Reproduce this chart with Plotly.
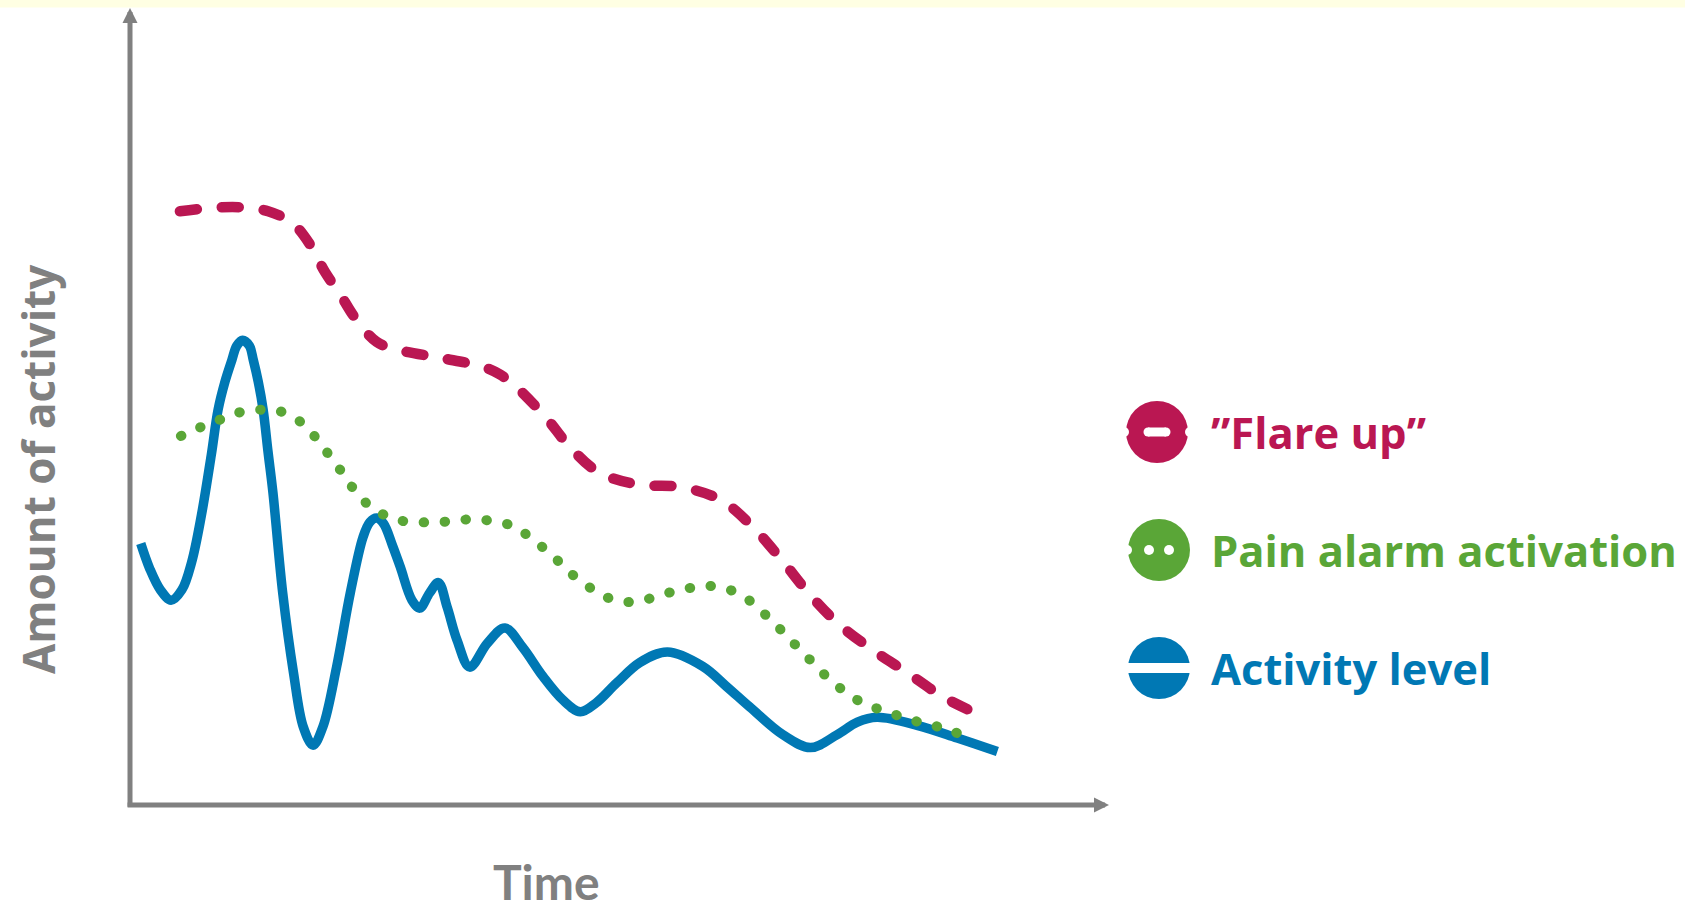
import plotly.graph_objects as go

# ---- series (time 0-100, amount of activity 0-100) ----
flare_x = [5.1, 8.2, 11.2, 14.1, 16.6, 18.4, 19.9, 21.5, 23.0, 25.2, 27.4, 31.7, 36.0,
           37.8, 39.6, 42.7, 44.6, 47.8, 51.9, 56.2, 60.3, 63.6, 66.6, 69.3, 72.3,
           75.8, 79.4, 83.0, 86.1]
flare_y = [74.5, 74.9, 75.0, 74.5, 73.0, 70.3, 66.9, 64.0, 61.1, 58.1, 57.1, 56.1, 55.0,
           54.0, 52.3, 48.3, 45.4, 41.8, 40.2, 39.9, 38.3, 34.9, 30.7, 26.6, 22.8,
           19.5, 16.6, 13.6, 11.7]

pain_x = [5.2, 7.2, 9.3, 11.3, 13.6, 15.6, 17.6, 19.1, 20.4, 21.8, 23.0, 24.5, 26.5,
          28.6, 30.9, 33.0, 35.2, 37.4, 39.4, 41.0, 43.1, 44.6, 46.3, 48.1, 50.3,
          52.4, 54.6, 56.7, 58.8, 61.0, 63.0, 64.7, 66.3, 67.8, 69.4, 70.9, 72.5,
          74.4, 76.3, 78.5, 80.6, 82.6, 84.8]
pain_y = [46.3, 47.4, 48.4, 49.3, 49.6, 49.3, 47.9, 45.9, 43.8, 41.5, 39.4, 37.5, 36.1,
          35.5, 35.5, 35.6, 35.9, 35.5, 34.9, 33.4, 31.4, 29.5, 27.9, 26.4, 25.5,
          25.7, 26.5, 27.1, 27.5, 27.1, 25.9, 24.1, 22.2, 20.3, 18.3, 16.4, 14.7,
          13.1, 12.1, 11.2, 10.4, 9.8, 8.9]

activity_x = [1.1, 2.0, 3.1, 4.2, 5.3, 6.3, 7.3, 8.3, 9.0, 9.7, 10.4, 10.9, 11.5,
              12.2, 12.6, 13.1, 13.6, 14.1, 14.6, 15.6, 16.7, 17.7, 18.7, 19.7, 21.1,
              22.5, 23.8, 24.5, 25.2, 25.9, 26.8, 27.6, 28.8, 29.6, 30.6, 31.5, 32.4,
              33.4, 34.7, 36.5, 38.3, 40.1, 42.2, 44.2, 46.0, 47.6, 49.7, 52.1, 54.9,
              58.5, 61.0, 63.3, 66.7, 69.5, 72.2, 74.3, 76.3, 80.4, 84.5, 88.6]
activity_y = [32.8, 29.7, 27.0, 25.7, 27.0, 30.5, 36.4, 43.9, 49.6, 53.1, 55.8, 57.6, 58.3,
              57.6, 55.8, 53.1, 49.6, 44.3, 39.2, 26.6, 16.6, 9.8, 7.5, 9.8, 17.3,
              26.6, 33.6, 35.5, 36.0, 35.3, 32.6, 29.9, 25.7, 24.7, 26.6, 27.9, 24.8,
              20.7, 17.3, 20.3, 22.2, 19.8, 16.1, 13.2, 11.7, 12.8, 15.3, 17.9, 19.2,
              17.4, 14.8, 12.3, 8.8, 7.2, 8.8, 10.4, 11.0, 10.0, 8.4, 6.7]

legend_labels = ["\u201dFlare up\u201d", "Pain alarm activation", "Activity level"]
x_title = "Time"
y_title = "Amount of activity"

# ---- styling ----
MAGENTA = "#BA1752"
GREEN = "#5AA637"
BLUE = "#0078B4"
GREY = "#808080"
TEXT_FONT = "Open Sans"
TITLE_FONT = "Lato"

W, H = 1685, 911
L, R, T, B = 130, 1109, 8, 805   # plot-area edges in page pixels


def px(X):
    return (X - L) / (R - L)


def py(Y):
    return (B - Y) / (B - T)


fig = go.Figure()

fig.add_trace(go.Scatter(
    x=activity_x, y=activity_y, mode="lines", uid="activity",
    line=dict(color=BLUE, width=9.5, shape="spline", smoothing=1.0),
    hoverinfo="skip", showlegend=False))

fig.add_trace(go.Scatter(
    x=pain_x, y=pain_y, mode="lines", uid="pain",
    line=dict(color=GREEN, width=10, shape="spline", smoothing=1.0,
              dash="0.5px,20.5px"),
    hoverinfo="skip", showlegend=False))

fig.add_trace(go.Scatter(
    x=flare_x, y=flare_y, mode="lines", uid="flare",
    line=dict(color=MAGENTA, width=10.5, shape="spline", smoothing=1.0,
              dash="17px,25px"),
    hoverinfo="skip", showlegend=False))

annotations = []
# axis arrows
annotations.append(dict(x=0, y=100, ax=0, ay=-0.4, xref="x", yref="y", axref="x", ayref="y",
                        text="", showarrow=True, arrowhead=2, arrowsize=0.6, arrowwidth=5,
                        arrowcolor=GREY, standoff=0, startstandoff=0))
annotations.append(dict(x=100, y=0, ax=-0.4, ay=0, xref="x", yref="y", axref="x", ayref="y",
                        text="", showarrow=True, arrowhead=2, arrowsize=0.6, arrowwidth=5,
                        arrowcolor=GREY, standoff=0, startstandoff=0))
# axis titles
annotations.append(dict(x=px(546), y=py(911), xref="paper", yref="paper", text=x_title,
                        showarrow=False, xanchor="center", yanchor="bottom",
                        borderpad=0,
                        font=dict(family=TITLE_FONT, size=48, color=GREY, weight=700)))
annotations.append(dict(x=px(38), y=py(469), xref="paper", yref="paper", text=y_title,
                        showarrow=False, xanchor="center", yanchor="middle", textangle=-90,
                        font=dict(family=TEXT_FONT, size=44, color=GREY, weight=700)))

shapes = [
    # pale strip along the top edge
    dict(type="rect", xref="paper", yref="paper", x0=px(0), x1=px(W), y0=py(0), y1=py(7.5),
         fillcolor="#FFFFE3", line=dict(width=0), layer="below"),
]

legend_rows = [(1157, 432, MAGENTA), (1159, 550, GREEN), (1159, 668, BLUE)]
text_x = 1209


def pix_circle(cx, cy, r, color):
    return dict(type="circle", xref="paper", yref="paper", xsizemode="pixel",
                ysizemode="pixel", xanchor=px(cx), yanchor=py(cy),
                x0=-r, x1=r, y0=-r, y1=r, fillcolor=color, line=dict(width=0),
                layer="above")


def pix_rect(cx, cy, x0, x1, y0, y1, color):
    return dict(type="rect", xref="paper", yref="paper", xsizemode="pixel",
                ysizemode="pixel", xanchor=px(cx), yanchor=py(cy),
                x0=x0, x1=x1, y0=y0, y1=y1, fillcolor=color, line=dict(width=0),
                layer="above")


# "Flare up" icon: disc with a white dash through it
cx, cy, col = legend_rows[0]
shapes += [pix_circle(cx, cy, 31, col),
           pix_rect(cx, cy, -9, 9, -4.5, 4.5, "white"),
           pix_circle(cx - 9, cy, 4.5, "white"),
           pix_circle(cx + 9, cy, 4.5, "white"),
           pix_circle(cx - 33, cy, 5, "white"),
           pix_circle(cx + 33, cy, 5, "white")]
# pain alarm icon: disc with white dots
cx, cy, col = legend_rows[1]
shapes += [pix_circle(cx, cy, 31, col),
           pix_circle(cx - 10, cy, 5, "white"),
           pix_circle(cx + 10, cy, 5, "white"),
           pix_circle(cx - 32, cy, 5, "white")]
# activity icon: disc with a white line across
cx, cy, col = legend_rows[2]
shapes += [pix_circle(cx, cy, 31, col),
           pix_rect(cx, cy, -34, 34, -5, 5, "white")]

for (cx, cy, col), label in zip(legend_rows, legend_labels):
    annotations.append(dict(x=px(text_x), y=py(cy), xref="paper", yref="paper", text=label,
                            showarrow=False, xanchor="left", yanchor="middle",
                            font=dict(family=TEXT_FONT, size=43.5, color=col, weight=700)))

fig.update_layout(
    width=W, height=H, autosize=False,
    margin=dict(l=L, r=W - R, t=T, b=H - B, pad=0),
    paper_bgcolor="white", plot_bgcolor="white",
    xaxis=dict(range=[0, 100], visible=False, fixedrange=True),
    yaxis=dict(range=[0, 100], visible=False, fixedrange=True),
    annotations=annotations, shapes=shapes,
    showlegend=False,
)

round_caps = """
var st = document.createElement('style');
st.textContent = '.traceflare .js-line, .tracepain .js-line { stroke-linecap: round; }';
document.head.appendChild(st);
"""

fig.write_html("out.html", config={"displayModeBar": False}, post_script=round_caps)
